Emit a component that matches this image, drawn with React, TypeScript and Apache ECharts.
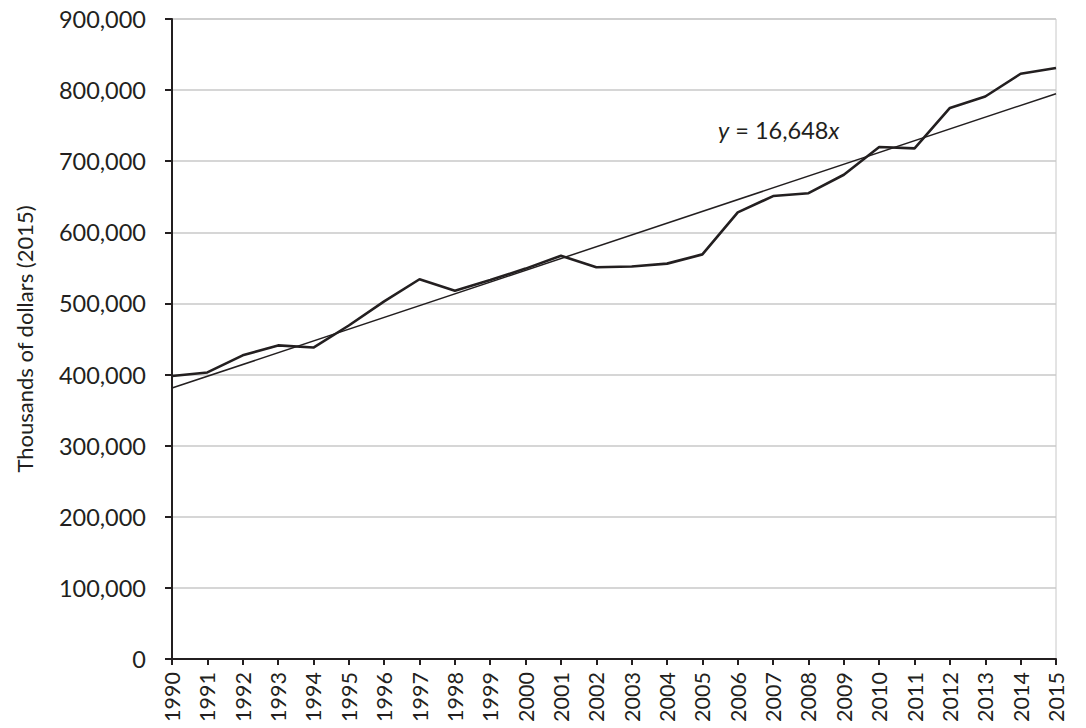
import React, { useEffect, useRef } from "react";
import * as echarts from "echarts";

const years = ["1990","1991","1992","1993","1994","1995","1996","1997","1998","1999","2000","2001","2002","2003","2004","2005","2006","2007","2008","2009","2010","2011","2012","2013","2014","2015"];
const values = [398000,403000,427000,441000,438000,469000,503000,534000,518000,533000,549000,567000,551000,552000,556000,569000,628000,651000,655000,681000,720000,718000,775000,791000,823000,831000];
const trendYears = ["1990", "2015"];
const trendValues = [381000, 795000];
const yTicks = [0, 100000, 200000, 300000, 400000, 500000, 600000, 700000, 800000, 900000];

const FONT = "Lato, 'Open Sans', sans-serif";
const INK = "#231f20";

export default function App() {
  const ref = useRef<HTMLDivElement>(null);
  useEffect(() => {
    document.body.style.margin = "0";
    const chart = echarts.init(ref.current!, null, { renderer: "svg" });
    chart.setOption({
      animation: false,
      backgroundColor: "#ffffff",
      grid: {
        left: 172, right: 30, top: 19, bottom: 69,
        containLabel: false,
        outerBoundsMode: "none",
        show: true, borderColor: "#c8c8c8", borderWidth: 1,
      },
      xAxis: {
        type: "category",
        data: years,
        boundaryGap: false,
        axisLine: { lineStyle: { color: INK, width: 2 } },
        axisTick: { show: true, length: 6, lineStyle: { color: INK, width: 2 } },
        axisLabel: { rotate: 90, margin: 13, color: INK, fontSize: 21.5, fontFamily: FONT, interval: 0 },
        splitLine: { show: false },
      },
      yAxis: {
        type: "value",
        min: yTicks[0],
        max: yTicks[yTicks.length - 1],
        interval: 100000,
        name: "Thousands of dollars (2015)",
        nameLocation: "middle",
        nameGap: 137,
        nameRotate: 90,
        nameTextStyle: { color: INK, fontSize: 22, fontFamily: FONT },
        axisLine: { show: true, lineStyle: { color: INK, width: 2 } },
        axisTick: { show: true, length: 7, lineStyle: { color: INK, width: 2 } },
        axisLabel: {
          margin: 26,
          color: INK,
          fontSize: 23.5,
          fontFamily: FONT,
          formatter: (v: number) => v.toLocaleString("en-US"),
        },
        splitLine: { show: true, lineStyle: { color: "#c8c8c8", width: 1.5 } },
      },
      series: [
        {
          type: "line",
          data: values,
          symbol: "none",
          lineStyle: { color: INK, width: 2.6 },
          z: 3,
        },
        {
          type: "line",
          data: trendYears.map((y, i) => [y, trendValues[i]]),
          symbol: "none",
          lineStyle: { color: INK, width: 1.5 },
          z: 2,
        },
      ],
      graphic: [
        {
          type: "text",
          x: 718,
          y: 130,
          style: {
            text: "{i|y} = 16,648{i|x}",
            fontSize: 23.5,
            fontFamily: FONT,
            fill: INK,
            verticalAlign: "middle",
            align: "left",
            rich: {
              i: { fontStyle: "italic", fontSize: 23.5, fontFamily: FONT, fill: INK },
            },
          },
        },
      ],
    });
    return () => chart.dispose();
  }, []);
  return <div ref={ref} style={{ width: 1086, height: 728, position: "absolute", left: 0, top: 0 }} />;
}
